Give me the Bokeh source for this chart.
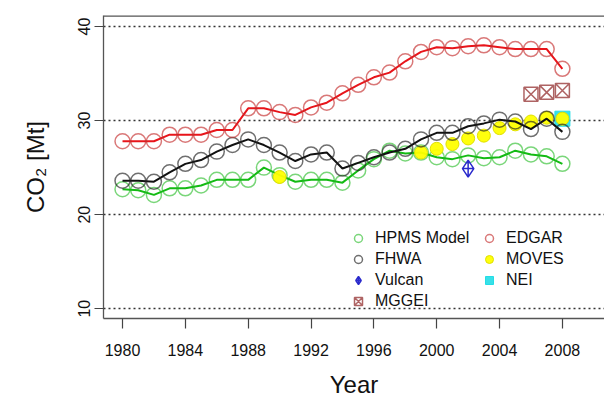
from bokeh.plotting import figure
from bokeh.models import Legend, LegendItem, FixedTicker, Range1d, Span
from bokeh.embed import file_html
from bokeh.resources import INLINE

years = list(range(1980, 2009))
hpms = [22.7, 22.6, 22.1, 22.8, 22.8, 23.1, 23.7, 23.7, 23.7, 25.0, 24.2, 23.5, 23.7, 23.7, 23.4,
        24.7, 25.9, 26.8, 26.5, 26.6, 26.1, 25.9, 26.3, 26.0, 26.1, 26.8, 26.4, 26.2, 25.4]
fhwa = [23.6, 23.6, 23.5, 24.5, 25.4, 25.8, 26.7, 27.4, 28.0, 27.4, 26.6, 25.7, 26.4, 26.6, 24.9,
        25.5, 26.1, 26.6, 27.0, 28.0, 28.7, 28.7, 29.4, 29.7, 30.1, 29.9, 29.1, 30.2, 28.8]
edgar = [27.8, 27.8, 27.8, 28.5, 28.5, 28.5, 29.0, 29.0, 31.3, 31.3, 30.9, 30.6, 31.4, 31.9, 32.9,
         33.8, 34.6, 35.1, 36.3, 37.3, 37.8, 37.7, 37.9, 38.0, 37.8, 37.6, 37.6, 37.6, 35.5]
moves_years = [1990, 1999, 2000, 2001, 2002, 2003, 2004, 2005, 2006, 2007, 2008]
moves = [24.0, 26.6, 27.0, 27.5, 28.1, 28.4, 29.2, 29.6, 29.9, 30.3, 30.2]
nei_years = [2008]
nei = [30.2]
vulcan_years = [2002]
vulcan = [24.9]
mggei_years = [2006, 2007, 2008]
mggei = [32.8, 33.0, 33.2]
x_ticks = [1980, 1984, 1988, 1992, 1996, 2000, 2004, 2008]
y_ticks = [10, 20, 30, 40]

FONT = "Liberation Sans"
Y_TOP = 41.17

p = figure(width=604, height=401, output_backend="svg", toolbar_location=None,
           x_range=Range1d(1978.79, 2010.68), y_range=Range1d(8.96, Y_TOP),
           min_border_left=103, min_border_right=0, min_border_top=15, min_border_bottom=83)
p.outline_line_color = None
p.background_fill_color = "white"
p.xgrid.visible = False
p.ygrid.ticker = FixedTicker(ticks=y_ticks)
p.ygrid.grid_line_color = "#333333"
p.ygrid.grid_line_dash = "2 3"
p.ygrid.grid_line_width = 1.3

for ax in (p.xaxis[0], p.yaxis[0]):
    ax.axis_line_color = "#555555"
    ax.axis_line_width = 1.3
    ax.major_tick_line_color = "#444444"
    ax.major_tick_line_width = 1.2
    ax.major_tick_in = 0
    ax.minor_tick_line_color = None
    ax.major_label_text_font = FONT
    ax.major_label_text_font_size = "16px"
    ax.major_label_text_color = "#111111"
    ax.axis_label_text_font = FONT
    ax.axis_label_text_font_size = "24px"
    ax.axis_label_text_font_style = "normal"
    ax.axis_label_text_color = "#111111"

p.xaxis.ticker = FixedTicker(ticks=x_ticks)
p.xaxis.major_tick_out = 10
p.xaxis.major_label_standoff = 15
p.xaxis.axis_label = "Year"
p.xaxis.axis_label_standoff = 12

p.yaxis.ticker = FixedTicker(ticks=y_ticks)
p.yaxis.major_tick_out = 9
p.yaxis.major_label_standoff = 4
p.yaxis.major_label_orientation = "vertical"
p.yaxis.axis_label = "CO\u2082 [Mt]"
p.yaxis.axis_label_standoff = 27

p.add_layout(Span(location=Y_TOP, dimension="width", line_color="#555555", line_width=2.5))

# HPMS (green)
p.line(years, hpms, line_color="#13bb13", line_width=2)
r_hpms = p.scatter(years, hpms, marker="circle", size=15, fill_color=None,
                   line_color="#22bb22", line_alpha=0.6, line_width=1.5)
# NEI
r_nei = p.scatter(nei_years, nei, marker="square", size=15, fill_color="#22dde6",
                  line_color="#22dde6", fill_alpha=0.9)
# MOVES
r_moves = p.scatter(moves_years, moves, marker="circle", size=13, fill_color="#ffff00",
                    line_color="#e0e000", line_width=1, fill_alpha=0.95)
# FHWA (black)
p.line(years, fhwa, line_color="#111111", line_width=2)
r_fhwa = p.scatter(years, fhwa, marker="circle", size=15, fill_color=None,
                   line_color="#222222", line_alpha=0.65, line_width=1.5)
# EDGAR (red)
p.line(years, edgar, line_color="#e8141a", line_width=2)
r_edgar = p.scatter(years, edgar, marker="circle", size=15, fill_color=None,
                    line_color="#c43030", line_alpha=0.65, line_width=1.5)
# MGGEI
r_mggei = p.scatter(mggei_years, mggei, marker="square_x", size=14, fill_color=None,
                    line_color="#a04848", line_alpha=0.85, line_width=1.5)
# Vulcan
r_vulcan = p.scatter(vulcan_years, vulcan, marker="diamond_cross", size=17, fill_color=None,
                     line_color="#2a2acc", line_width=1.5)

common = dict(orientation="vertical", background_fill_alpha=0, border_line_color=None,
              label_text_font=FONT, label_text_font_size="16px", label_text_color="#111111",
              glyph_width=20, glyph_height=20, label_standoff=7, label_height=19,
              spacing=1, padding=0, margin=0)
legend1 = Legend(items=[
    LegendItem(label="HPMS Model", renderers=[r_hpms]),
    LegendItem(label="FHWA", renderers=[r_fhwa]),
    LegendItem(label="Vulcan", renderers=[r_vulcan]),
    LegendItem(label="MGGEI", renderers=[r_mggei]),
], location=(245, 7), **common)
legend2 = Legend(items=[
    LegendItem(label="EDGAR", renderers=[r_edgar]),
    LegendItem(label="MOVES", renderers=[r_moves]),
    LegendItem(label="NEI", renderers=[r_nei]),
], location=(376, 28), **common)
p.add_layout(legend1, "center")
p.add_layout(legend2, "center")

open("out.html", "w").write(file_html(p, INLINE))
